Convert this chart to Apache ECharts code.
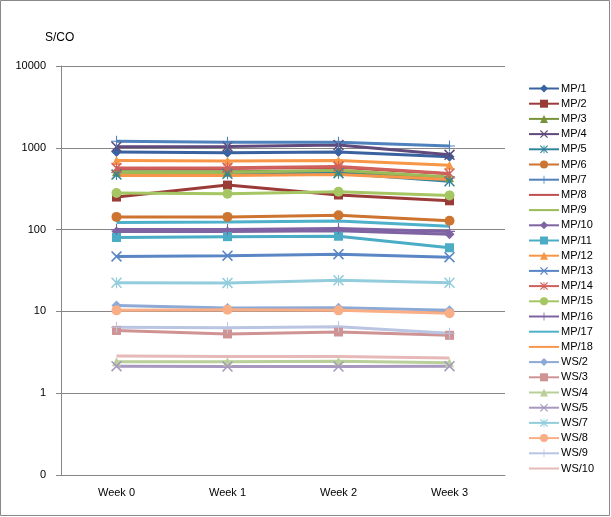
<!DOCTYPE html>
<html><head><meta charset="utf-8">
<script src="https://cdn.jsdelivr.net/npm/echarts@6/dist/echarts.min.js"></script>
<style>html,body{margin:0;padding:0;background:#fff}#c{width:611px;height:517px}</style>
</head><body><div id="c"></div>
<script>
const categories = ['Week 0','Week 1','Week 2','Week 3'];
const seriesNames = ['MP/1','MP/2','MP/3','MP/4','MP/5','MP/6','MP/7','MP/8','MP/9','MP/10','MP/11','MP/12','MP/13','MP/14','MP/15','MP/16','MP/17','MP/18','WS/2','WS/3','WS/4','WS/5','WS/7','WS/8','WS/9','WS/10'];
const mp1 = [890, 870, 890, 780];
const mp2 = [250, 350, 265, 225];
const mp3 = [510, 510, 520, 430];
const mp4 = [1030, 1040, 1080, 820];
const mp5 = [470, 480, 490, 390];
const mp6 = [143, 143, 150, 128];
const mp7 = [1200, 1170, 1170, 1050];
const mp8 = [560, 560, 580, 480];
const mp9 = [500, 500, 530, 440];
const mp10 = [95, 95, 97, 88];
const mp11 = [80, 82, 83, 60];
const mp12 = [700, 690, 700, 610];
const mp13 = [47, 48, 50, 46];
const mp14 = [565, 570, 590, 485];
const mp15 = [280, 275, 290, 262];
const mp16 = [100, 100, 103, 95];
const mp17 = [122, 124, 127, 110];
const mp18 = [460, 460, 470, 410];
const ws2 = [11.8, 11.0, 11.1, 10.3];
const ws3 = [5.85, 5.3, 5.6, 5.1];
const ws4 = [2.42, 2.42, 2.45, 2.35];
const ws5 = [2.14, 2.12, 2.12, 2.14];
const ws7 = [22.4, 22.3, 24, 22.4];
const ws8 = [10.3, 10.5, 10.3, 9.5];
const ws9 = [6.4, 6.3, 6.5, 5.4];
const ws10 = [2.84, 2.8, 2.8, 2.7];
const allData = [mp1,mp2,mp3,mp4,mp5,mp6,mp7,mp8,mp9,mp10,mp11,mp12,mp13,mp14,mp15,mp16,mp17,mp18,ws2,ws3,ws4,ws5,ws7,ws8,ws9,ws10];
const colors = ['#3A62A0','#9A3B38','#77933C','#604A7B','#31859C','#CC7430',
  '#4F81BD','#C0504D','#9BBB59','#8064A2','#4BACC6','#F79646',
  '#5A86C5','#D0605C','#A5C663','#7E62A4','#4FB0CA','#F7964A',
  '#8DA9D6','#D09393','#B9D09A','#A898C0','#93CDDD','#FAAE86','#B9C5E2','#E6B9B8'];
const X = 'path://M0,1 L1,0 L5,4 L9,0 L10,1 L6,5 L10,9 L9,10 L5,6 L1,10 L0,9 L4,5 Z';
const PLUS = 'path://M4.5,0 H5.5 V4.5 H10 V5.5 H5.5 V10 H4.5 V5.5 H0 V4.5 H4.5 Z';
const STAR = 'path://M0,1 L1,0 L5,4 L9,0 L10,1 L6,5 L10,9 L9,10 L5,6 L1,10 L0,9 L4,5 Z M4.5,0 H5.5 V10 H4.5 Z';
const symbols = ['diamond','rect','triangle',X,STAR,'circle',PLUS,'none','none',
  'diamond','rect','triangle',X,STAR,'circle',PLUS,'none','none',
  'diamond','rect','triangle',X,STAR,'circle',PLUS,'none'];
const sizes = {'diamond':10,'rect':9,'triangle':9,'circle':10};
const chart = echarts.init(document.getElementById('c'), null, {renderer:'canvas'});
const series = seriesNames.map((n,i)=>({
  name:n, type:'line', data:allData[i], symbol:symbols[i],
  symbolSize: sizes[symbols[i]] || 11,
  lineStyle:{width:3,color:colors[i]}, itemStyle:{color:colors[i]},
  animation:false
}));
const legendData = seriesNames.map((n,i)=> symbols[i]==='none'
  ? {name:n, itemStyle:{opacity:0}}
  : {name:n});
chart.setOption({
  animation:false,
  color:colors,
  textStyle:{fontFamily:'Liberation Sans, Arial, sans-serif'},
  graphic:[{type:'rect',shape:{x:0.5,y:0.5,width:609,height:515},style:{fill:'none',stroke:'#888',lineWidth:1}},
    {type:'text',left:45,top:32,style:{text:'S/CO',fontSize:12,fill:'#000',fontFamily:'Liberation Sans, Arial, sans-serif'}}],
  grid:{left:61,top:66,right:106,bottom:42},
  xAxis:{type:'category',data:categories,boundaryGap:true,
    axisLine:{lineStyle:{color:'#868686'}},axisTick:{show:false},
    axisLabel:{color:'#000',fontSize:11,margin:12},splitLine:{show:false}},
  yAxis:{type:'log',logBase:10,min:0.1,max:10000,splitNumber:5,
    axisLine:{show:true,lineStyle:{color:'#868686'}},
    axisTick:{show:true,length:5,lineStyle:{color:'#868686'}},
    axisLabel:{color:'#000',fontSize:11,margin:15,formatter:v=> v<1 ? '0' : String(Math.round(v))},
    splitLine:{show:true,lineStyle:{color:'#868686',width:1}}},
  legend:{orient:'vertical',left:523,top:78,itemWidth:30,itemHeight:10,itemGap:4.2,
    textStyle:{fontSize:11,color:'#000',padding:[0,0,0,-3]},data:legendData},
  series:series
});
</script></body></html>
